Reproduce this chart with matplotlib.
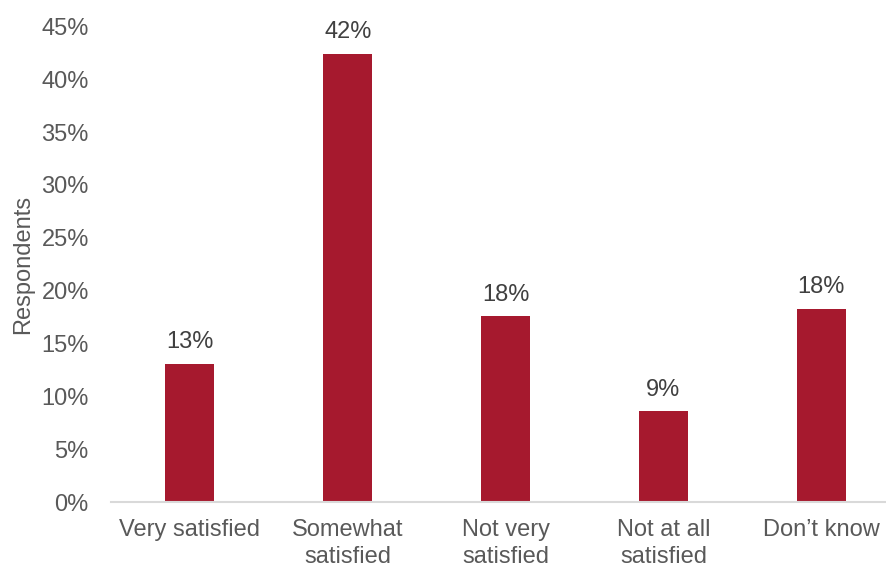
import matplotlib
matplotlib.use("Agg")
import matplotlib.pyplot as plt
from matplotlib.ticker import FuncFormatter

categories = ["Very satisfied", "Somewhat\nsatisfied", "Not very\nsatisfied", "Not at all\nsatisfied", "Don\u2019t know"]
values = [13.1, 42.4, 17.6, 8.6, 18.3]
labels = ["13%", "42%", "18%", "9%", "18%"]

plt.rcParams['font.family'] = ['Liberation Sans', 'DejaVu Sans']

fig = plt.figure(figsize=(8.86, 5.67), dpi=100)
ax = fig.add_axes([0.1253, 0.1146, 0.8747, 0.839])

x = list(range(len(categories)))
bars = ax.bar(x, values, width=0.31, color="#A6192E", zorder=2)

for xi, v, lab in zip(x, values, labels):
    ax.annotate(lab, (xi, v), xytext=(0, 7.5), textcoords="offset points",
                ha="center", va="bottom", fontsize=17, color="#404040")

ax.set_ylim(0, 45)
ax.set_xlim(-0.5, 4.41)
ax.set_yticks(range(0, 50, 5))
ax.yaxis.set_major_formatter(FuncFormatter(lambda v, p: f"{int(v)}%"))
ax.set_xticks(x)
ax.set_xticklabels(categories, linespacing=1.25)

for s in ["top", "right", "left"]:
    ax.spines[s].set_visible(False)
ax.spines["bottom"].set_color("#D9D9D9")
ax.spines["bottom"].set_linewidth(1.5)

ax.tick_params(axis="both", length=0, labelsize=17, colors="#595959")
ax.tick_params(axis="x", pad=12.5)
ax.tick_params(axis="y", pad=16)
ax.set_ylabel("Respondents", fontsize=17, color="#595959", labelpad=5)

fig.savefig("out.png", dpi=100)
